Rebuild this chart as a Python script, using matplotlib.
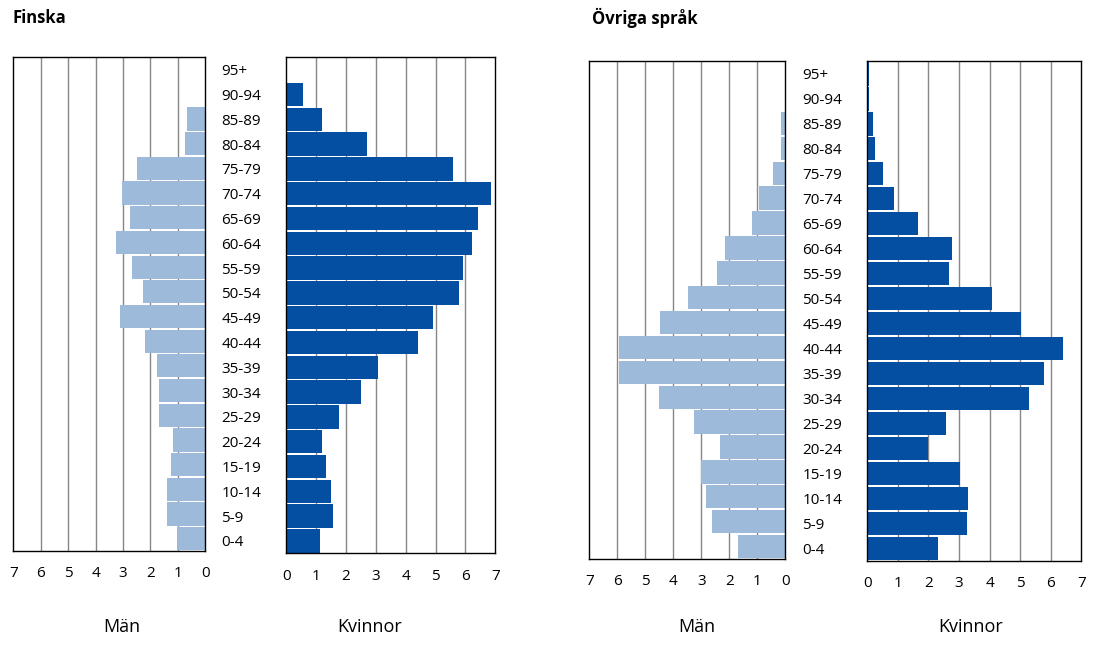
import matplotlib.pyplot as plt

# Age groups, top to bottom as in the chart
age_groups = ["95+", "90-94", "85-89", "80-84", "75-79", "70-74", "65-69",
              "60-64", "55-59", "50-54", "45-49", "40-44", "35-39", "30-34",
              "25-29", "20-24", "15-19", "10-14", "5-9", "0-4"]

# Percent of population, Finska
finska_man = [0, 0, 0.67, 0.74, 2.49, 3.04, 2.74, 3.26, 2.67, 2.27,
              3.11, 2.20, 1.76, 1.69, 1.69, 1.18, 1.25, 1.40, 1.40, 1.03]
finska_kvinna = [0, 0.56, 1.19, 2.70, 5.58, 6.86, 6.42, 6.22, 5.92, 5.78,
                 4.91, 4.41, 3.07, 2.50, 1.76, 1.19, 1.33, 1.50, 1.56, 1.13]

# Percent of population, Övriga språk
ovriga_man = [0, 0, 0.15, 0.15, 0.44, 0.94, 1.19, 2.15, 2.44, 3.48,
              4.48, 5.94, 5.94, 4.51, 3.26, 2.33, 3.01, 2.83, 2.62, 1.69]
ovriga_kvinna = [0.06, 0.05, 0.19, 0.25, 0.51, 0.87, 1.66, 2.77, 2.67, 4.08,
                 5.03, 6.40, 5.78, 5.29, 2.57, 1.98, 3.03, 3.29, 3.26, 2.31]

light_blue = "#9dbadb"
dark_blue = "#044fa2"
grid_col = "#878787"
font = "Open Sans"

W, H = 1100, 646
fig = plt.figure(figsize=(W / 100, H / 100), dpi=100)


def px_axes(x0, y0, x1, y1):
    # pixel box (top-left origin) -> figure axes
    return fig.add_axes([x0 / W, 1 - y1 / H, (x1 - x0) / W, (y1 - y0) / H])


def style(ax, reverse):
    ax.set_xlim(7, 0) if reverse else ax.set_xlim(0, 7)
    ax.set_ylim(len(age_groups) - 0.5, -0.5)
    ax.set_xticks(range(8))
    for v in range(1, 7):
        ax.axvline(v, color=grid_col, lw=1, zorder=0)
    for s in ax.spines.values():
        s.set_color("black")
        s.set_linewidth(1)
    ax.tick_params(axis="x", length=0, pad=11, labelsize=11)
    for lbl in ax.get_xticklabels():
        lbl.set_fontfamily(font)


panels = [
    ((13.3, 57.3, 205.3, 551), finska_man, light_blue, True, False),
    ((286.3, 57.3, 495.3, 553.3), finska_kvinna, dark_blue, False, True),
    ((589.3, 61.3, 785.3, 559), ovriga_man, light_blue, True, False),
    ((867.3, 61.3, 1081.3, 561), ovriga_kvinna, dark_blue, False, True),
]

ypos = list(range(len(age_groups)))
for box, vals, col, rev, labels in panels:
    ax = px_axes(*box)
    ax.barh(ypos, vals, height=0.94, color=col, zorder=2)
    style(ax, rev)
    if labels:
        ax.set_yticks(ypos)
        ax.set_yticklabels(age_groups, fontsize=11, fontfamily=font, ha="left")
        ax.tick_params(axis="y", length=0, pad=(box[0] - (box[0] - 65)) * 0.72)
    else:
        ax.set_yticks([])

# titles
fig.text(13 / W, 1 - 18 / H, "Finska", fontsize=12, fontweight="bold",
         fontfamily=font, va="center", ha="left")
fig.text(592 / W, 1 - 18 / H, "Övriga språk", fontsize=12, fontweight="bold",
         fontfamily=font, va="center", ha="left")

# gender labels
for x, txt in [(122, "Män"), (370, "Kvinnor"), (697, "Män"), (971, "Kvinnor")]:
    fig.text(x / W, 1 - 627 / H, txt, fontsize=13, fontfamily=font,
             ha="center", va="center")

fig.savefig("out.png", dpi=100)
